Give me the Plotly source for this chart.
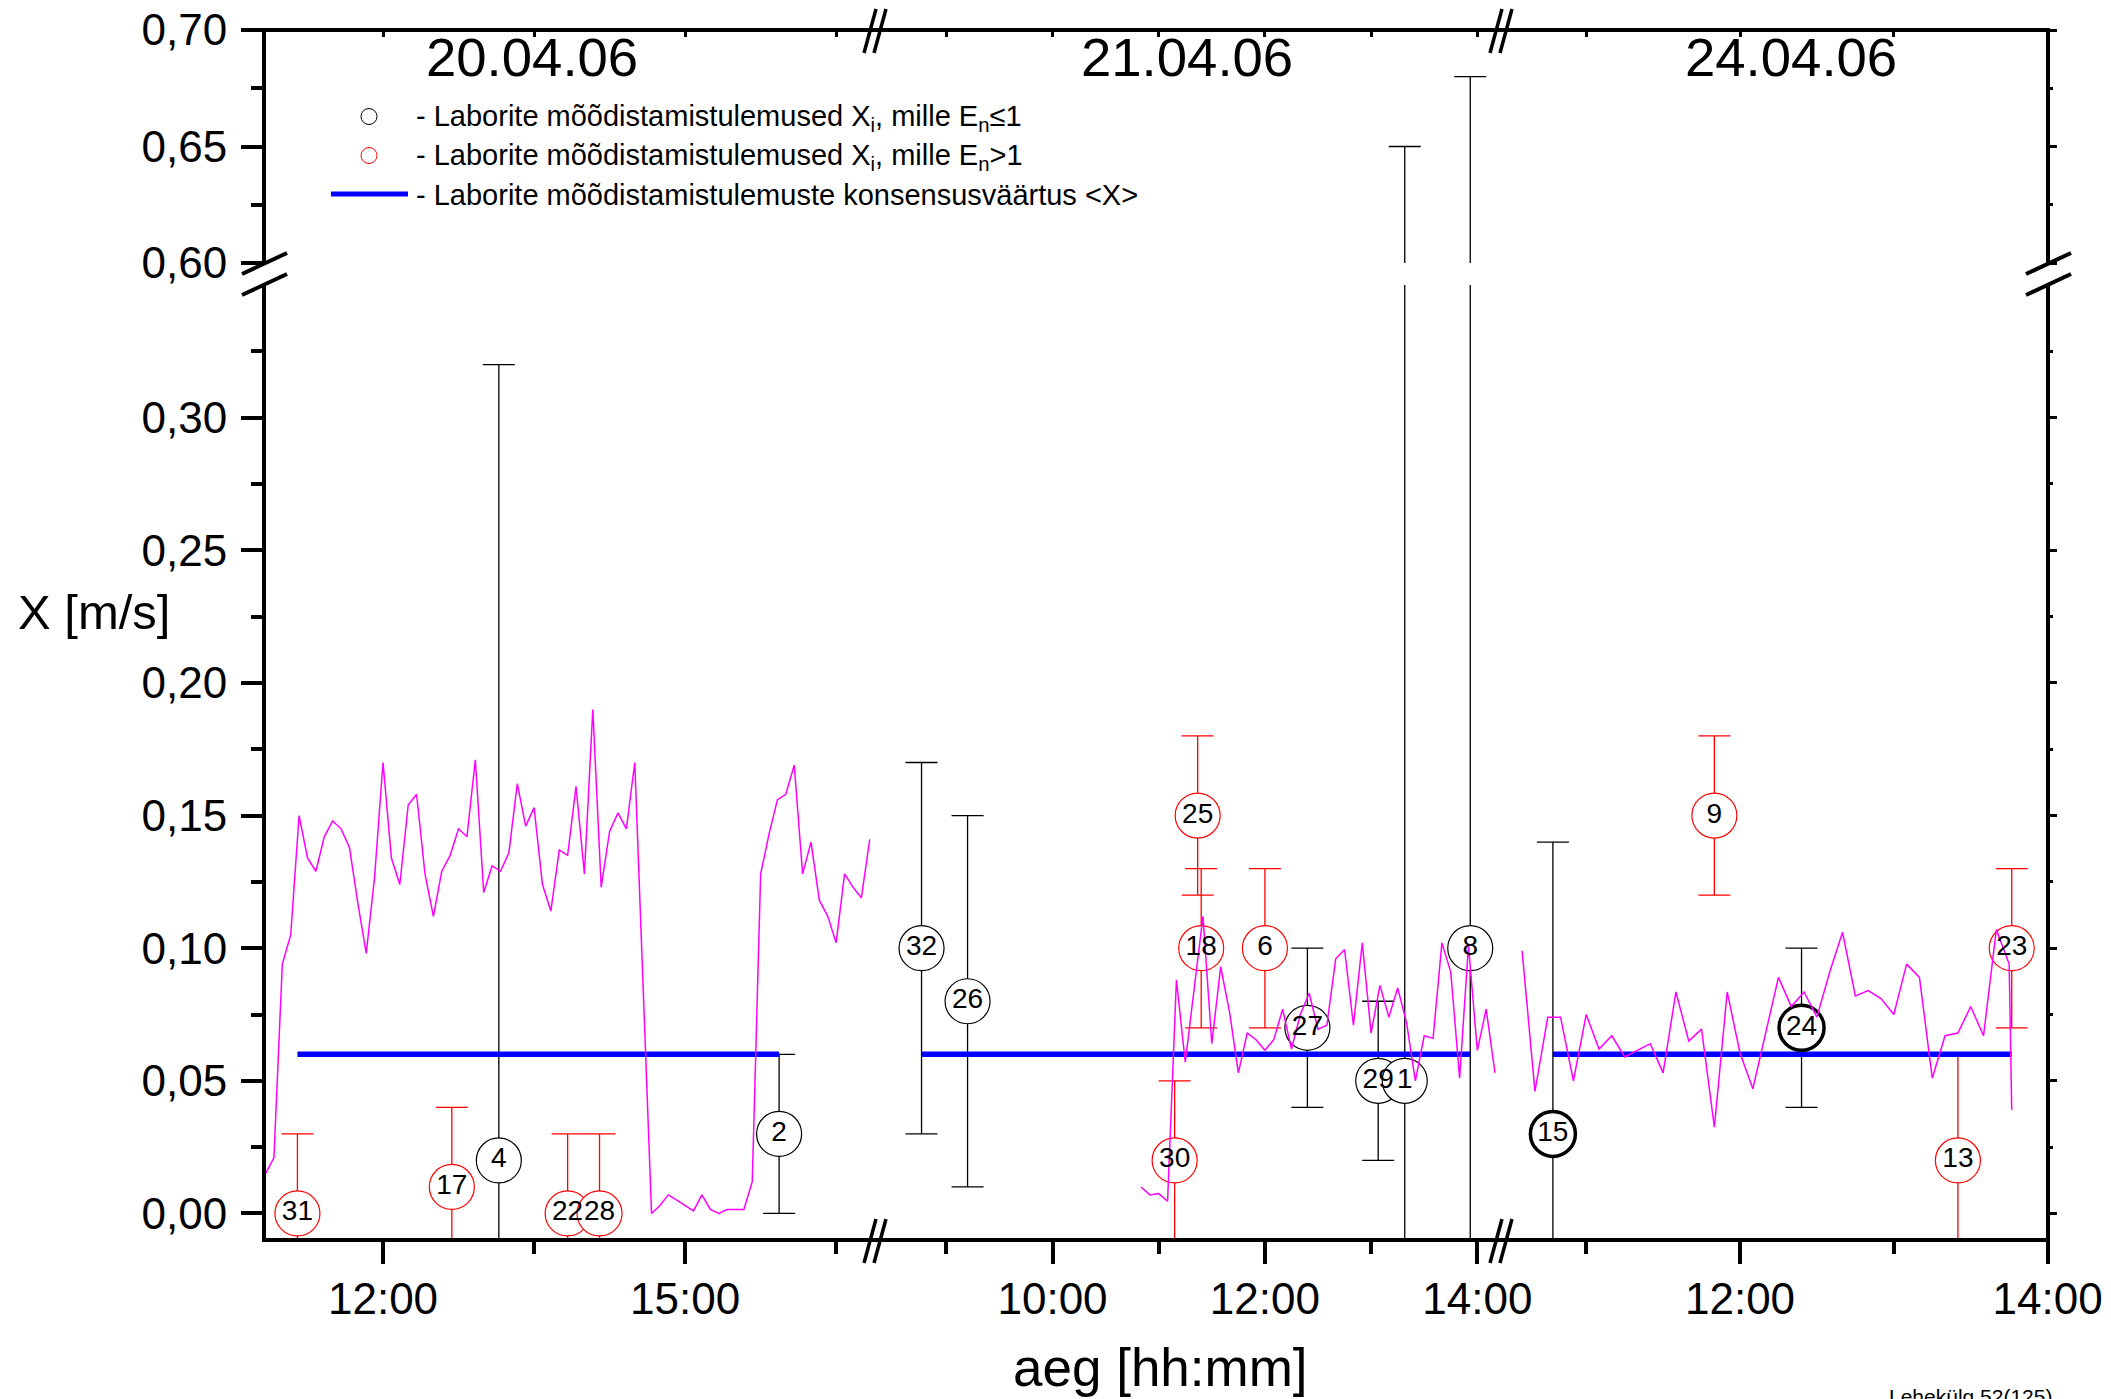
import plotly.graph_objects as go
from datetime import datetime, timedelta

W, H = 2111, 1399

# ---------------------------------------------------------------- data
days = ["2006-04-20", "2006-04-21", "2006-04-24"]
day_titles = ["20.04.06", "21.04.06", "24.04.06"]

# continuous flow-speed record, 5-minute samples (None = missing sample)
flow_start = ["10:50", "10:50", "10:35"]
flow_step_min = 5
flow_day1 = [0.015, 0.021, 0.094, 0.105, 0.150, 0.134, 0.129, 0.142, 0.148, 0.145,
             0.138, 0.117, 0.098, 0.127, 0.170, 0.134, 0.124, 0.154, 0.158, 0.128,
             0.112, 0.129, 0.135, 0.145, 0.142, 0.171, 0.121, 0.131, 0.129, 0.136,
             0.162, 0.146, 0.153, 0.124, 0.114, 0.137, 0.135, 0.161, 0.128, 0.190,
             0.123, 0.144, 0.151, 0.145, 0.170, None, 0.000, 0.003, 0.007, 0.005,
             0.003, 0.001, 0.007, 0.0015, 0.000, 0.0015, 0.0015, 0.0015, 0.012, 0.128,
             0.143, 0.156, 0.158, 0.169, 0.128, 0.140, 0.118, 0.112, 0.102, 0.128,
             0.123, 0.119, 0.141]
flow_day2 = [0.010, 0.007, 0.0075, 0.0046, 0.088, 0.057, None, 0.112, 0.064, 0.093,
             0.076, 0.053, 0.068, 0.0655, 0.0615, 0.0655, 0.077, 0.062, 0.075, 0.083,
             0.0695, 0.071, 0.096, 0.0995, 0.071, 0.102, 0.068, 0.086, 0.074, 0.085,
             0.072, 0.050, 0.067, 0.066, 0.102, 0.091, 0.051, 0.101, 0.0615, 0.077,
             0.053]
flow_day3 = [0.099, 0.046, 0.074, 0.074, 0.050, 0.075, 0.062, 0.067, 0.059, 0.0615,
             0.064, 0.053, 0.0835, 0.065, 0.0695, 0.0325, 0.0835, 0.0605, 0.047, 0.068,
             0.089, 0.078, 0.0835, 0.074, 0.091, 0.106, 0.082, 0.084, 0.081, 0.075,
             0.094, 0.089, 0.051, 0.067, 0.068, 0.078, 0.067, 0.107, 0.094]
flow_day3_tail_time = "13:46"
flow_day3_tail_value = 0.039

# laboratory results: id, day index, time, value X_i, uncertainty, E_n <= 1 ?
lab_id = ["31", "17", "4", "22", "28", "2",
          "32", "26", "30", "25", "18", "6", "27", "29", "1", "8",
          "15", "9", "24", "13", "23"]
lab_day = [0] * 6 + [1] * 10 + [2] * 5
lab_time = ["11:09", "12:41", "13:09", "13:50", "14:09", "15:56",
            "08:46", "09:12", "11:09", "11:22", "11:24", "12:00", "12:24", "13:04", "13:19", "13:56",
            "10:47", "11:50", "12:24", "13:25", "13:46"]
lab_value = [0.00, 0.01, 0.02, 0.00, 0.00, 0.03,
             0.10, 0.08, 0.02, 0.15, 0.10, 0.10, 0.07, 0.05, 0.05, 0.10,
             0.03, 0.15, 0.07, 0.02, 0.10]
lab_unc = [0.03, 0.03, 0.30, 0.03, 0.03, 0.03,
           0.07, 0.07, 0.03, 0.03, 0.03, 0.03, 0.03, 0.03, 0.60, 0.58,
           0.11, 0.03, 0.03, 0.04, 0.03]
lab_en_ok = [False, False, True, False, False, True,
             True, True, False, False, False, False, True, True, True, True,
             True, False, True, False, False]
bold_labs = ["15", "24"]
consensus = 0.06

y_low_ticks = [0.00, 0.05, 0.10, 0.15, 0.20, 0.25, 0.30]
y_up_ticks = [0.60, 0.65, 0.70]

# ---------------------------------------------------------------- geometry
FONT = "Arial, Liberation Sans, sans-serif"
px_panels = [(264, 871), (880, 1497), (1505, 2048)]
hour_ranges = [(10.8183, 16.846), (8.3757, 14.1855), (10.472, 14.0026)]
major_h = [3, 2, 2]
minor_h = [1.5, 1, 1]
low_px = (285, 1240)
up_px = (30, 263)
low_range = [-0.01, 0.35]
up_range = [0.60, 0.70]


def xdom(a, b):
    return [a / W, b / W]


def ydom(top, bottom):
    return [1 - bottom / H, 1 - top / H]


def stamp(day, hhmm):
    return f"{day} {hhmm}"


def at_hours(day, h):
    t = datetime.fromisoformat(day) + timedelta(hours=h)
    return t.strftime("%Y-%m-%d %H:%M:%S")


def flow_times(day, start, n):
    t0 = datetime.fromisoformat(f"{day} {start}")
    return [(t0 + timedelta(minutes=flow_step_min * i)).strftime("%Y-%m-%d %H:%M") for i in range(n)]


fig = go.Figure()

flows = [flow_day1, flow_day2, flow_day3]
low_axes = [("x", "y"), ("x2", "y2"), ("x3", "y3")]
up_axes = [("x4", "y4"), ("x5", "y5"), ("x6", "y6")]

for d, day in enumerate(days):
    idx = [i for i in range(len(lab_id)) if lab_day[i] == d]
    times = [stamp(day, lab_time[i]) for i in idx]
    vals = [lab_value[i] for i in idx]

    # error bars (both halves of the broken y axis)
    for xa, ya in (low_axes[d], up_axes[d]):
        for i in idx:
            col = "black" if lab_en_ok[i] else "red"
            fig.add_trace(go.Scatter(
                x=[stamp(day, lab_time[i])], y=[lab_value[i]], xaxis=xa, yaxis=ya,
                mode="markers", marker=dict(size=1, color="rgba(0,0,0,0)"),
                error_y=dict(type="data", array=[lab_unc[i]], visible=True,
                             color=col, thickness=1.3, width=16),
                showlegend=False, hoverinfo="skip", cliponaxis=True))

    xa, ya = low_axes[d]
    # consensus value across the day's measurements
    fig.add_trace(go.Scatter(
        x=[times[0], times[-1]], y=[consensus, consensus], xaxis=xa, yaxis=ya,
        mode="lines", line=dict(color="#0000FF", width=5.5),
        showlegend=False, hoverinfo="skip"))

    # lab circles
    fig.add_trace(go.Scatter(
        x=times, y=vals, xaxis=xa, yaxis=ya, mode="markers",
        marker=dict(size=45, color="white", symbol="circle",
                    line=dict(color=["black" if lab_en_ok[i] else "red" for i in idx],
                              width=[3.5 if lab_id[i] in bold_labs else 1.2 for i in idx])),
        showlegend=False, hoverinfo="skip"))

    # flow record
    fx = flow_times(day, flow_start[d], len(flows[d]))
    fy = list(flows[d])
    if d == 2:
        fx.append(stamp(day, flow_day3_tail_time))
        fy.append(flow_day3_tail_value)
    fig.add_trace(go.Scatter(
        x=fx, y=fy, xaxis=xa, yaxis=ya, mode="lines", connectgaps=True,
        line=dict(color="#FF00FF", width=1.5), showlegend=False, hoverinfo="skip"))

    # lab numbers
    fig.add_trace(go.Scatter(
        x=times, y=vals, xaxis=xa, yaxis=ya, mode="text",
        text=[lab_id[i] for i in idx], textposition="middle center",
        textfont=dict(family=FONT, size=28, color="black"),
        showlegend=False, hoverinfo="skip"))

# ---------------------------------------------------------------- axes
layout = dict(
    width=W, height=H, margin=dict(l=0, r=0, t=0, b=0, autoexpand=False),
    paper_bgcolor="white", plot_bgcolor="rgba(0,0,0,0)",
    separators=", ", showlegend=False,
    font=dict(family=FONT, color="black"),
)

y_low_minor = [round(0.025 + 0.05 * k, 3) for k in range(7)]
y_up_minor = [0.625, 0.675]

for d, day in enumerate(days):
    a, b = px_panels[d]
    rng = [at_hours(day, hour_ranges[d][0]), at_hours(day, hour_ranges[d][1])]
    n = "" if d == 0 else str(d + 1)
    nu = str(d + 4)
    layout["xaxis" + n] = dict(
        domain=xdom(a, b), anchor="y" + n, type="date", range=rng,
        tick0=f"{day} 00:00", dtick=major_h[d] * 3600000, tickformat="%H:%M",
        ticks="outside", ticklen=23, tickwidth=4, tickcolor="black",
        tickfont=dict(size=44, family=FONT), ticklabelstandoff=-3,
        minor=dict(tick0=f"{day} 00:00", dtick=minor_h[d] * 3600000,
                   ticks="outside", ticklen=13, tickwidth=4, tickcolor="black"),
        showgrid=False, zeroline=False, showline=False, fixedrange=True)
    layout["xaxis" + nu] = dict(
        domain=xdom(a, b), anchor="y" + nu, side="top", type="date", range=rng,
        tick0=f"{day} 00:00", dtick=major_h[d] * 3600000,
        ticks="inside", ticklen=7, tickwidth=3, tickcolor="black", showticklabels=False,
        minor=dict(tick0=f"{day} 00:00", dtick=minor_h[d] * 3600000,
                   ticks="inside", ticklen=7, tickwidth=3, tickcolor="black"),
        showgrid=False, zeroline=False, showline=False, fixedrange=True)

    for key, anchor, dom, rngy, tv, mv in (
            ("yaxis" + n, "x" + n, ydom(*low_px), low_range, y_low_ticks, y_low_minor),
            ("yaxis" + nu, "x" + nu, ydom(*up_px), up_range, y_up_ticks, y_up_minor)):
        ax = dict(domain=dom, anchor=anchor, range=rngy, showgrid=False,
                  zeroline=False, showline=False, fixedrange=True)
        if d == 0:
            ax.update(tickmode="array", tickvals=tv, tickformat=".2f",
                      ticks="outside", ticklen=22, tickwidth=4, tickcolor="black",
                      tickfont=dict(size=44, family=FONT), ticklabelstandoff=5,
                      minor=dict(tickmode="array", tickvals=mv, ticks="outside",
                                 ticklen=12, tickwidth=4, tickcolor="black"))
        elif d == 2:
            ax.update(side="right", tickmode="array", tickvals=tv,
                      ticks="outside", ticklen=8, tickwidth=3, tickcolor="black",
                      showticklabels=False,
                      minor=dict(tickmode="array", tickvals=mv, ticks="outside",
                                 ticklen=4, tickwidth=3, tickcolor="black"))
        else:
            ax.update(visible=False)
        layout[key] = ax

fig.update_layout(**layout)

# ---------------------------------------------------------------- frame & breaks
shapes = []


def seg(x0, y0, x1, y1, width=4, color="black"):
    shapes.append(dict(type="line", xref="paper", yref="paper",
                       x0=x0 / W, y0=1 - y0 / H, x1=x1 / W, y1=1 - y1 / H,
                       line=dict(color=color, width=width)))


L, R = px_panels[0][0], px_panels[2][1]
seg(L - 2, low_px[1], R + 2, low_px[1])
seg(L - 2, up_px[0], R + 2, up_px[0])
for xx in (L, R):
    seg(xx, up_px[0], xx, up_px[1])
    seg(xx, low_px[0], xx, low_px[1])
    # y-axis break marks
    seg(xx - 22, 274, xx + 23, 253, width=4)
    seg(xx - 22, 295, xx + 23, 274, width=4)

# x-axis break marks
for cx in (875, 1501):
    for yy in (up_px[0] + 1, low_px[1] + 1):
        for dd in (-5, 5):
            seg(cx + dd - 6, yy + 22, cx + dd + 6, yy - 22, width=3.5)

# legend symbols
shapes.append(dict(type="circle", xref="paper", yref="paper",
                   x0=361 / W, x1=377 / W, y0=1 - 124.5 / H, y1=1 - 108.5 / H,
                   line=dict(color="black", width=1)))
shapes.append(dict(type="circle", xref="paper", yref="paper",
                   x0=361 / W, x1=377 / W, y0=1 - 163.5 / H, y1=1 - 147.5 / H,
                   line=dict(color="red", width=1)))
seg(331, 194, 408, 194, width=5, color="#0000FF")

fig.update_layout(shapes=shapes)

# ---------------------------------------------------------------- texts
ann = []


def text(x, y, s, size, xanchor="center", yanchor="middle"):
    ann.append(dict(x=x / W, y=1 - y / H, xref="paper", yref="paper", text=s,
                    showarrow=False, xanchor=xanchor, yanchor=yanchor,
                    font=dict(family=FONT, size=size, color="black")))


for cx, t in zip((532, 1187, 1791), day_titles):
    text(cx, 58, t, 54.5)

text(414, 118, "- Laborite mõõdistamistulemused X<sub>i</sub>, mille E<sub>n</sub>≤1", 29, "left")
text(414, 157, "- Laborite mõõdistamistulemused X<sub>i</sub>, mille E<sub>n</sub>>1", 29, "left")
text(414, 195, "- Laborite mõõdistamistulemuste konsensusväärtus &lt;X&gt;", 29, "left")

text(16, 612, "X [m/s]", 49, "left")
text(1160, 1367, "aeg [hh:mm]", 53)
text(1887, 1383, "Lehekülg 52(125)", 21, "left", "top")

fig.update_layout(annotations=ann)

fig.write_html("out.html")
